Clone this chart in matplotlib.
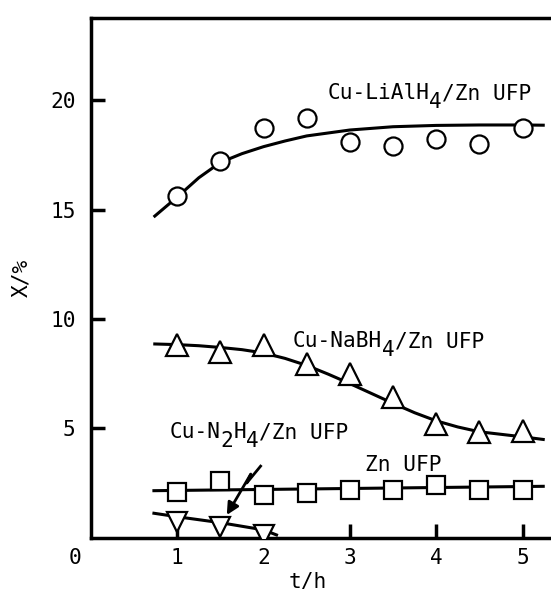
import numpy as np
import matplotlib
matplotlib.use("Agg")
import matplotlib.pyplot as plt

plt.rcParams['font.family'] = ['DejaVu Sans Mono', 'DejaVu Sans']

# measured points, t in hours, X in %
t = [1.0, 1.5, 2.0, 2.5, 3.0, 3.5, 4.0, 4.5, 5.0]
x_lialh4 = [15.6, 17.2, 18.7, 19.2, 18.1, 17.9, 18.2, 18.0, 18.7]
x_nabh4 = [8.8, 8.5, 8.8, 7.95, 7.5, 6.45, 5.2, 4.85, 4.9]
x_zn = [2.1, 2.6, 1.95, 2.05, 2.2, 2.2, 2.4, 2.2, 2.2]
t_n2h4 = [1.0, 1.5, 2.0]
x_n2h4 = [0.75, 0.5, 0.15]

# hand drawn fitted curves
t_fit_li = [0.74, 1.0, 1.25, 1.5, 1.75, 2.0, 2.25, 2.5, 3.0, 3.5, 4.0, 4.5, 5.0, 5.24]
fit_li = [14.7, 15.57, 16.45, 17.15, 17.55, 17.87, 18.13, 18.36, 18.63, 18.78, 18.84, 18.86, 18.86, 18.85]
t_fit_na = [0.74, 1.0, 1.25, 1.5, 1.75, 2.0, 2.25, 2.5, 2.75, 3.0, 3.25, 3.5, 3.75, 4.0, 4.25, 4.5, 5.0, 5.24]
fit_na = [8.86, 8.83, 8.78, 8.7, 8.6, 8.45, 8.2, 7.88, 7.48, 7.05, 6.6, 6.15, 5.72, 5.35, 5.07, 4.85, 4.62, 4.5]
t_fit_zn = [0.73, 5.24]
fit_zn = [2.16, 2.36]
t_fit_n2 = [0.73, 1.0, 1.5, 2.0, 2.15]
fit_n2 = [1.13, 0.97, 0.7, 0.37, 0.14]

fs = 15.2
adv = 0.602 * fs   # monospace advance in points
drop = 6.3         # subscript drop in points


def chem_label(ax, x, y, parts):
    # parts: list of (text, is_subscript); full size subscripts, typewriter style
    n = 0
    for s, sub in parts:
        ax.annotate(s, xy=(x, y), xytext=(n * adv, -drop if sub else 0),
                    textcoords='offset points', fontsize=fs, va='baseline', ha='left')
        n += len(s)


fig = plt.figure(figsize=(5.51, 5.89), dpi=100)
ax = fig.add_axes([0.165, 0.0866, 0.835, 0.8834])

lw = 2.2
mk = dict(color='k', mfc='white', mec='k', mew=1.6, ls='none', zorder=3)

ax.plot(t_fit_li, fit_li, 'k-', lw=lw, zorder=2)
ax.plot(t_fit_na, fit_na, 'k-', lw=lw, zorder=2)
ax.plot(t_fit_zn, fit_zn, 'k-', lw=lw, zorder=2)
ax.plot(t_fit_n2, fit_n2, 'k-', lw=lw, zorder=2)

ax.plot(t, x_lialh4, marker='o', ms=13, **mk)
ax.plot(t, x_nabh4, marker='^', ms=15.5, **mk)
ax.plot(t, x_zn, marker='s', ms=13, **mk)
ax.plot(t_n2h4, x_n2h4, marker='v', ms=14, **mk)

chem_label(ax, 2.74, 20.03, [('Cu-LiAlH', False), ('4', True), ('/Zn UFP', False)])
chem_label(ax, 2.34, 8.71, [('Cu-NaBH', False), ('4', True), ('/Zn UFP', False)])
chem_label(ax, 0.915, 4.55, [('Cu-N', False), ('2', True), ('H', False), ('4', True),
                             ('/Zn UFP', False)])
chem_label(ax, 3.18, 3.07, [('Zn UFP', False)])

# zigzag arrow pointing at the Cu-N2H4 series
ax.plot([1.976, 1.805, 1.852], [3.33, 2.51, 2.92], 'k-', lw=2, solid_capstyle='butt')
ax.annotate('', xy=(1.574, 1.05), xytext=(1.852, 2.92),
            arrowprops=dict(arrowstyle='-|>', lw=2, color='k', mutation_scale=18,
                            shrinkA=0, shrinkB=0))

ax.set_xlim(0, 5.33)
ax.set_ylim(0, 23.76)
ax.set_xticks([1, 2, 3, 4, 5])
ax.set_yticks([5, 10, 15, 20])
ax.tick_params(direction='in', length=10, width=2.5, labelsize=fs)
ax.tick_params(axis='y', pad=11)
ax.tick_params(axis='x', pad=7)

# origin label sits below the corner
ax.annotate('0', xy=(0, 0), xytext=(-11.5, -14.5), textcoords='offset points',
            ha='center', va='center', fontsize=fs)

ax.spines['right'].set_visible(False)
for s in ['left', 'bottom', 'top']:
    ax.spines[s].set_linewidth(2.5)

ax.set_xlabel('t/h', fontsize=fs)
ax.xaxis.set_label_coords(0.472, -0.064)
ax.set_ylabel('X/%', fontsize=fs)
ax.yaxis.set_label_coords(-0.152, 0.5)
ax.yaxis.label.set_va('center')

fig.savefig('out.png', dpi=100)
